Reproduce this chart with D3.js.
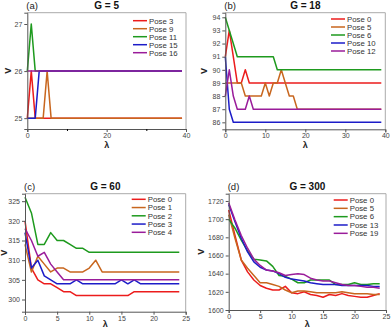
<!DOCTYPE html>
<html><head><meta charset="utf-8">
<script src="https://cdn.jsdelivr.net/npm/d3@7"></script>
<style>body{margin:0;background:#fff}svg{display:block;font-family:"Liberation Sans",Arial,sans-serif}</style>
</head><body><svg id="c" width="392" height="329"></svg>
<script>
const colors = ["#ec1c1c", "#c8661e", "#1e9a1e", "#1c1cc8", "#9a1c9a"];

// Panel (a) G = 5
const aLabels = ["Pose 3", "Pose 9", "Pose 11", "Pose 15", "Pose 16"];
const aPose3  = [25,26,25].concat(Array(37).fill(25));
const aPose9  = [25,25,25,25,25,26].concat(Array(34).fill(25));
const aPose11 = [26,27].concat(Array(38).fill(26));
const aPose15 = [25,25,25,26].concat(Array(36).fill(26));
const aPose16 = Array(40).fill(26);

// Panel (b) G = 18
const bLabels = ["Pose 0", "Pose 5", "Pose 6", "Pose 10", "Pose 12"];
const bPose0  = [91,93,91,89,89,90,89].concat(Array(33).fill(89));
const bPose5  = [89,89,89,89,89,88,88,88,88,88,89,88,89,89,90,89,88,88,87].concat(Array(21).fill(87));
const bPose6  = [94,93,92,91,91,91,91,91,91,91,91,91,91,90].concat(Array(26).fill(90));
const bPose10 = [91,87,86].concat(Array(37).fill(86));
const bPose12 = [88,90,88,87,87,87,88,87].concat(Array(32).fill(87));

// Panel (c) G = 60
const cLabels = ["Pose 0", "Pose 1", "Pose 2", "Pose 3", "Pose 4"];
const cPose0 = [320,308,305,304,304,303,302,302,301,301,301,301,301,301,301,301,301,302,302,302,302,302,302,302,302];
const cPose1 = [314,307,311,309,307,308,308,307,307,307,308,310,307,307,307,307,307,307,307,307,307,307,307,307,307];
const cPose2 = [326,322,314,314,317,315,315,314,313,313,312,312,312,312,312,312,312,312,312,312,312,312,312,312,312];
const cPose3 = [317,308,310,306,305,304,304,304,305,304,304,304,304,304,304,305,304,305,304,304,304,304,304,304,304];
const cPose4 = [318,315,311,312,309,307,305,305,305,305,305,305,305,305,305,305,305,305,305,305,305,305,305,305,305];

// Panel (d) G = 300
const dLabels = ["Pose 0", "Pose 5", "Pose 6", "Pose 13", "Pose 19"];
const dPose0  = [1710,1682,1655,1642,1633,1627,1624,1622,1622,1626,1619,1618,1620,1617,1616,1614,1617,1616,1618,1616,1615,1614,1614,1616,1618];
const dPose5  = [1705,1679,1655,1646,1638,1630,1630,1628,1626,1622,1619,1621,1621,1620,1619,1619,1619,1619,1620,1619,1618,1618,1618,1617,1617];
const dPose6  = [1700,1690,1677,1665,1656,1655,1654,1648,1638,1637,1634,1630,1630,1633,1633,1633,1633,1628,1628,1628,1630,1628,1628,1629,1629];
const dPose13 = [1716,1697,1679,1664,1653,1647,1644,1643,1640,1636,1634,1633,1632,1630,1629,1628,1628,1628,1627,1627,1627,1627,1627,1626,1626];
const dPose19 = [1718,1699,1682,1668,1656,1649,1644,1643,1641,1638,1639,1640,1639,1635,1633,1632,1632,1630,1628,1627,1627,1626,1625,1625,1624];

const svg = d3.select("#c");

function panel(o) {
  const g = svg.append("g");
  const x = d3.scaleLinear().domain(o.xd).range([o.x0, o.x1]);
  const y = d3.scaleLinear().domain(o.yd).range([o.y1, o.y0]);
  g.append("path").attr("d", `M${o.x0},${o.y0}H${o.x1}V${o.y1}`).attr("fill","none").attr("stroke","#aaa").attr("stroke-width",1);
  const line = d3.line().x((d,i)=>x(i)).y(d=>y(d));
  o.series.forEach((s,k)=>{
    g.append("path").datum(s).attr("d", line).attr("fill","none").attr("stroke", colors[k]).attr("stroke-width",1.5).attr("stroke-linejoin","round");
  });
  const xa = g.append("g").attr("transform",`translate(0,${o.y1})`).call(d3.axisBottom(x).tickValues(o.xt).tickSize(3).tickPadding(1).tickFormat(d3.format("d")));
  const ya = g.append("g").attr("transform",`translate(${o.x0},0)`).call(d3.axisLeft(y).tickValues(o.yt).tickSize(3).tickPadding(2).tickFormat(d3.format("d")));
  if (o.xm) g.append("g").attr("transform",`translate(0,${o.y1})`).call(d3.axisBottom(x).tickValues(o.xm).tickSize(2).tickFormat("")).select(".domain").remove();
  [xa, ya].forEach(a=>{
    a.selectAll("text").attr("font-size",7).attr("fill","#444").attr("font-family","Liberation Sans, Arial, sans-serif");
    a.selectAll("line").attr("stroke","#555");
    a.select(".domain").attr("stroke","#555");
  });
  g.append("text").attr("x",(o.x0+o.x1)/2).attr("y",o.y1+o.lamb).attr("text-anchor","middle").attr("font-size",9).attr("font-weight","bold").attr("fill","#222").text("λ");
  g.append("text").attr("transform",`translate(${o.vx},${(o.y0+o.y1)/2}) rotate(-90)`).attr("text-anchor","middle").attr("font-size",9).attr("font-weight","bold").attr("fill","#222").text("V");
  g.append("text").attr("x",(o.x0+o.x1)/2).attr("y",o.y0-3.5).attr("text-anchor","middle").attr("font-size",10).attr("font-weight","bold").attr("fill","#111").text(o.title);
  g.append("text").attr("x",o.x0-1).attr("y",o.y0-3.5).attr("font-size",9.5).attr("fill","#222").text(o.tag);
  o.labels.forEach((l,k)=>{
    const yy = o.ly + k*o.ls;
    g.append("line").attr("x1",o.lx).attr("x2",o.lx+14).attr("y1",yy).attr("y2",yy).attr("stroke",colors[k]).attr("stroke-width",1.5);
    g.append("text").attr("x",o.lx+16).attr("y",yy+2.8).attr("font-size",7.8).attr("fill","#333").text(l);
  });
}

panel({x0:27.3,x1:186,y0:12.7,y1:129,xd:[0,40],yd:[24.77,27.24],xt:[0,20,40],xm:[10,30],yt:[25,26,27],
  series:[aPose3,aPose9,aPose11,aPose15,aPose16],labels:aLabels,lx:133,ly:20.7,ls:8,vx:11,lamb:18.5,title:"G = 5",tag:"(a)"});
panel({x0:225.3,x1:385.3,y0:12.7,y1:129.3,xd:[0,40],yd:[85.47,94.35],xt:[0,10,20,30,40],yt:[86,87,88,89,90,91,92,93,94],
  series:[bPose0,bPose5,bPose6,bPose10,bPose12],labels:bLabels,lx:331,ly:19,ls:8,vx:207,lamb:18.5,title:"G = 18",tag:"(b)"});
panel({x0:25,x1:185.7,y0:193.7,y1:311.7,xd:[0,25],yd:[296.9,326.9],xt:[0,5,10,15,20,25],yt:[300,305,310,315,320,325],
  series:[cPose0,cPose1,cPose2,cPose3,cPose4],labels:cLabels,lx:131.7,ly:199.3,ls:8.25,vx:7,lamb:15.3,title:"G = 60",tag:"(c)"});
panel({x0:228.7,x1:386,y0:193.7,y1:310,xd:[0,25],yd:[1600,1728],xt:[0,5,10,15,20,25],yt:[1600,1620,1640,1660,1680,1700,1720],
  series:[dPose0,dPose5,dPose6,dPose13,dPose19],labels:dLabels,lx:333.7,ly:200,ls:8.33,vx:204,lamb:16.5,title:"G = 300",tag:"(d)"});
</script></body></html>
